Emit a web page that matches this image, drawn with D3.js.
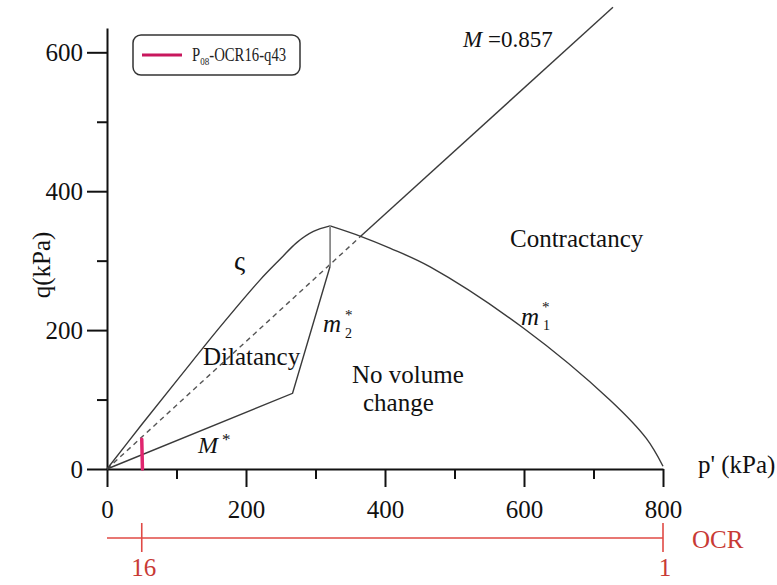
<!DOCTYPE html>
<html>
<head>
<meta charset="utf-8">
<script src="https://cdn.jsdelivr.net/npm/d3@7"></script>
<style>
  body { margin: 0; background: #fff; }
  svg text { font-family: "Liberation Serif", "Times New Roman", Times, "DejaVu Serif", serif !important; }
</style>
</head>
<body>
<div id="chart"></div>
<script>
// tick values
const pTicks = [0, 200, 400, 600, 800];
const pMinor = [100, 300, 500, 700];
const qTicks = [0, 200, 400, 600];
const qMinor = [100, 300, 500];
const ocrTicks = [16, 1];

// surfaces (p', q in kPa)
const zetaP = [0, 50, 105, 163, 220, 250, 273, 297, 321];
const zetaQ = [0, 64, 133, 205, 272, 303, 326, 342, 350];
const m1P = [321, 365, 407, 465, 599, 724, 776, 800];
const m1Q = [350, 335, 318, 291, 203, 99, 44, 4];
const peakP = [321, 321];
const peakQ = [350, 292];
const m2P = [321, 267];
const m2Q = [292, 109];
const mStarP = [267, 0];
const mStarQ = [109, 0];
const csP = [0, 365, 728];
const csQ = [0, 335, 665];

// stress path P08-OCR16-q43
const pathP = [51, 50];
const pathQ = [0, 43];

const width = 777, height = 585;

const svg = d3.select("#chart")
    .append("svg")
    .attr("width", width)
    .attr("height", height);

const x = d3.scaleLinear().domain([0, 800]).range([107, 663]);
const y = d3.scaleLinear().domain([0, 635]).range([469, 28]);

const line = d3.line().x(d => x(d[0])).y(d => y(d[1]));
const smooth = d3.line().x(d => x(d[0])).y(d => y(d[1])).curve(d3.curveCatmullRom.alpha(0.5));

/* ---- axes ---- */
svg.append("g")
    .attr("transform", `translate(0,${y(0)})`)
    .call(d3.axisBottom(x).tickValues(pTicks).tickSize(18).tickPadding(13).tickSizeOuter(0));
svg.append("g")
    .attr("transform", `translate(0,${y(0)})`)
    .call(d3.axisBottom(x).tickValues(pMinor).tickSize(10).tickFormat(""))
    .call(g => g.select(".domain").remove());

svg.append("g")
    .attr("transform", `translate(${x(0)},0)`)
    .call(d3.axisLeft(y).tickValues(qTicks).tickSize(20).tickPadding(4).tickSizeOuter(0));
svg.append("g")
    .attr("transform", `translate(${x(0)},0)`)
    .call(d3.axisLeft(y).tickValues(qMinor).tickSize(10).tickFormat(""))
    .call(g => g.select(".domain").remove());

svg.selectAll("g").attr("font-family", null);
svg.selectAll(".domain, .tick line").attr("stroke", "#111").attr("stroke-width", 2);
svg.selectAll(".tick text")
    .attr("font-size", 25)
    .attr("fill", "#111");

svg.append("text")
    .attr("x", 698).attr("y", 473)
    .attr("font-size", 25).attr("fill", "#111")
    .text("p' (kPa)");

svg.append("text")
    .attr("transform", "translate(50,265) rotate(-90)")
    .attr("text-anchor", "middle")
    .attr("font-size", 25).attr("fill", "#111")
    .text("q(kPa)");

/* ---- OCR axis ---- */
const ocrY = 538;
const ocrColor = "#e04a45";
svg.append("line")
    .attr("x1", x(0)).attr("x2", x(800))
    .attr("y1", ocrY).attr("y2", ocrY)
    .attr("stroke", ocrColor).attr("stroke-width", 1.6);
svg.selectAll(".ocr-tick")
    .data(ocrTicks)
    .enter()
    .append("line")
    .attr("x1", d => x(800 / d)).attr("x2", d => x(800 / d))
    .attr("y1", ocrY - 15).attr("y2", ocrY + 14)
    .attr("stroke", ocrColor).attr("stroke-width", 1.6);
svg.selectAll(".ocr-label")
    .data(ocrTicks)
    .enter()
    .append("text")
    .attr("x", d => x(800 / d) + 2)
    .attr("y", 576)
    .attr("text-anchor", "middle")
    .attr("font-size", 25).attr("fill", "#c83a35")
    .text(d => d);
svg.append("text")
    .attr("x", 692).attr("y", 548)
    .attr("font-size", 25).attr("fill", "#c83a35")
    .text("OCR");

/* ---- surfaces ---- */
const curveColor = "#3a3a3a";

svg.append("path")
    .attr("d", line(d3.zip(csP, csQ).slice(0, 2)))
    .attr("fill", "none").attr("stroke", "#555")
    .attr("stroke-width", 1.4).attr("stroke-dasharray", "5,4");
svg.append("path")
    .attr("d", line(d3.zip(csP, csQ).slice(1)))
    .attr("fill", "none").attr("stroke", curveColor).attr("stroke-width", 1.4);

svg.append("path")
    .attr("d", smooth(d3.zip(zetaP, zetaQ)))
    .attr("fill", "none").attr("stroke", curveColor).attr("stroke-width", 1.4);

svg.append("path")
    .attr("d", smooth(d3.zip(m1P, m1Q)))
    .attr("fill", "none").attr("stroke", curveColor).attr("stroke-width", 1.4);

svg.append("path")
    .attr("d", line(d3.zip(peakP, peakQ)))
    .attr("fill", "none").attr("stroke", "#8a8a8a").attr("stroke-width", 1.8);

svg.append("path")
    .attr("d", line(d3.zip(m2P, m2Q).concat(d3.zip(mStarP, mStarQ))))
    .attr("fill", "none").attr("stroke", curveColor).attr("stroke-width", 1.4);

// stress path
svg.append("path")
    .attr("d", line(d3.zip(pathP, pathQ)))
    .attr("fill", "none").attr("stroke", "#e0266f")
    .attr("stroke-width", 3.5).attr("stroke-linecap", "round");

/* ---- annotations ---- */
function label(px, py, txt, size, italic) {
    return svg.append("text")
        .attr("x", px).attr("y", py)
        .attr("font-size", size)
        .attr("font-style", italic ? "italic" : "normal")
        .attr("fill", "#111")
        .text(txt);
}

const mLab = svg.append("text").attr("x", 463).attr("y", 47).attr("font-size", 23).attr("fill", "#111");
mLab.append("tspan").attr("font-style", "italic").text("M");
mLab.append("tspan").text(" =0.857");

label(510, 247, "Contractancy", 25);
label(203, 365, "Dilatancy", 25);
label(352, 383, "No volume", 25);
label(363, 411, "change", 25);
label(234, 270, "ς", 28);

label(521, 325, "m", 25, true);
label(542, 312, "*", 15);
label(543, 330, "1", 14);

label(323, 332, "m", 25, true);
label(345, 320, "*", 15);
label(345, 338, "2", 14);

label(198, 453, "M", 24, true);
label(222, 445, "*", 17);

/* ---- legend ---- */
const legend = svg.append("g");
legend.append("rect")
    .attr("x", 133).attr("y", 35)
    .attr("width", 167).attr("height", 40)
    .attr("rx", 8)
    .attr("fill", "#fff").attr("stroke", "#333").attr("stroke-width", 1.5);
legend.append("line")
    .attr("x1", 142).attr("x2", 182)
    .attr("y1", 55).attr("y2", 55)
    .attr("stroke", "#c8175d").attr("stroke-width", 3);
const lt = legend.append("text")
    .attr("transform", "translate(192,61) scale(0.82,1)")
    .attr("font-size", 18).attr("fill", "#222");
lt.append("tspan").text("P");
lt.append("tspan").attr("font-size", 11).attr("dy", 4).text("08");
lt.append("tspan").attr("dy", -4).text("-OCR16-q43");
</script>
</body>
</html>
